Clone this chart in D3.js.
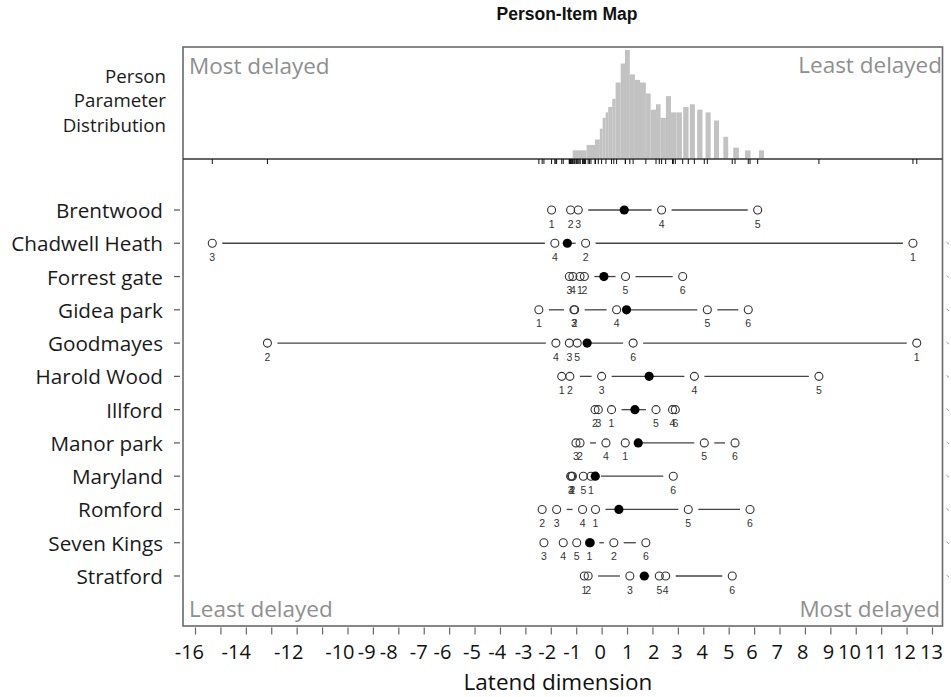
<!DOCTYPE html>
<html><head><meta charset="utf-8">
<script src="https://cdn.jsdelivr.net/npm/d3@7"></script>
<style>body{margin:0;background:#fff}svg{display:block}</style>
</head><body>
<svg id="chart" width="951" height="697"></svg>
<script>
const stations = ["Brentwood","Chadwell Heath","Forrest gate","Gidea park","Goodmayes","Harold Wood","Illford","Manor park","Maryland","Romford","Seven Kings","Stratford"];
// item threshold locations, index i => item number i+1
const itemLocations = [
  [-1.97, -1.22, -0.92, 2.36, 6.14],
  [12.25, -0.63, -15.32, -1.84],
  [-0.85, -0.68, -1.27, -1.13, 0.94, 3.19],
  [-2.47, -1.06, -1.09, 0.59, 4.16, 5.77],
  [12.40, -13.15, -1.27, -1.80, -0.96, 1.24],
  [-1.57, -1.25, 0.00, 3.65, 8.55],
  [0.39, -0.26, -0.13, 2.79, 2.14, 2.90],
  [0.93, -0.85, -1.01, 0.17, 4.04, 5.25],
  [-0.42, -1.15, -1.22, -1.18, -0.72, 2.82],
  [-0.24, -2.34, -1.77, -0.75, 3.41, 5.84],
  [-0.48, 0.48, -2.27, -1.51, -0.98, 1.74],
  [-0.68, -0.53, 1.11, 2.52, 2.27, 5.14]
];
const stationMeans = [0.89, -1.35, 0.09, 0.98, -0.57, 1.87, 1.31, 1.44, -0.25, 0.68, -0.45, 1.68];

// person parameter histogram
const histX0 = [-1.14,-0.59,-0.26,-0.07,0.04,0.16,0.26,0.42,0.55,0.75,0.92,1.11,1.31,1.51,1.74,1.93,2.14,2.32,2.53,2.73,2.95,3.21,3.47,3.76,4.09,4.42,4.79,5.18,5.64,6.19];
const histX1 = [-0.59,-0.26,-0.07,0.04,0.16,0.26,0.42,0.55,0.75,0.92,1.11,1.31,1.51,1.74,1.93,2.14,2.32,2.53,2.73,2.95,3.16,3.42,3.67,3.97,4.29,4.62,4.98,5.40,5.86,6.39];
const histCounts = [3,5,7,11,15,17,19,22,28,35,40,31,29,28,24,18,20,15,23,17,17,19,20,18,17,14,8,4,3,3];

// axis
const tickValues = d3.range(-16, 14);
const tickLabels = ["-16","-14","-12","-10","-9","-8","-7","-6","-5","-4","-3","-2","-1","0","1","2","3","4","5","6","7","8","9","10","11","12","13"];
const tickLabelAt = [-16.24,-14.40,-12.33,-10.32,-9.26,-8.40,-7.22,-6.28,-5.12,-4.13,-3.09,-2.16,-1.18,-0.07,1.01,2.03,2.95,3.94,4.98,5.90,6.89,7.89,8.91,9.73,10.76,11.90,12.96];

const svg = d3.select("#chart");
const font = "'Open Sans', sans-serif";
const L = 183, R = 942.5, T = 47, SEP = 159, B = 626;

const x = d3.scaleLinear().domain([-16, 13]).range([195, 932]);
const y = d3.scalePoint().domain(stations).range([210, 576]);
const hy = d3.scaleLinear().domain([0, 40]).range([SEP - 0.5, 50]);

// title
svg.append("text").attr("x", 567).attr("y", 20).attr("text-anchor", "middle")
  .attr("font-family", "'Liberation Sans', Arial, sans-serif").attr("font-weight", "bold")
  .attr("font-size", 17.5).attr("fill", "#111").text("Person-Item Map");

// histogram
svg.append("g").selectAll("rect").data(histCounts).join("rect")
  .attr("x", (d, i) => x(histX0[i]))
  .attr("width", (d, i) => x(histX1[i]) - x(histX0[i]))
  .attr("y", d => hy(d))
  .attr("height", d => hy(0) - hy(d))
  .attr("fill", "#c2c2c2");

// frame
svg.append("rect").attr("x", L).attr("y", T).attr("width", R - L).attr("height", B - T)
  .attr("fill", "none").attr("stroke", "#6a6a6a").attr("stroke-width", 1.6);
svg.append("line").attr("x1", L).attr("x2", R).attr("y1", SEP).attr("y2", SEP)
  .attr("stroke", "#333").attr("stroke-width", 1.6);

// rug of item locations
const allItems = itemLocations.flat();
svg.append("g").selectAll("line").data(allItems).join("line")
  .attr("x1", d => x(d)).attr("x2", d => x(d))
  .attr("y1", SEP).attr("y2", SEP + 5)
  .attr("stroke", "#111").attr("stroke-width", 1);

// left labels
const ppd = ["Person", "Parameter", "Distribution"];
svg.append("g").selectAll("text").data(ppd).join("text")
  .attr("x", 166).attr("y", (d, i) => 75 + i * 24.5)
  .attr("text-anchor", "end").attr("dominant-baseline", "central")
  .attr("font-family", font).attr("font-size", 18.7).attr("fill", "#1a1a1a").text(d => d);

svg.append("g").selectAll("text").data(stations).join("text")
  .attr("x", 163).attr("y", d => y(d))
  .attr("text-anchor", "end").attr("dominant-baseline", "central")
  .attr("font-family", font).attr("font-size", 20.7).attr("fill", "#1a1a1a").text(d => d);

// left ticks
svg.append("g").selectAll("line").data(stations).join("line")
  .attr("x1", 174).attr("x2", 180).attr("y1", d => y(d)).attr("y2", d => y(d))
  .attr("stroke", "#555").attr("stroke-width", 1.2);

// right edge remnants
svg.append("g").selectAll("line").data(stations.slice(1)).join("line")
  .attr("x1", 946.5).attr("x2", 949).attr("y1", d => y(d) - 1).attr("y2", d => y(d) + 1)
  .attr("stroke", "#999").attr("stroke-width", 1);

// rows
const gap = 10;
const rows = svg.append("g");
stations.forEach((s, si) => {
  const yy = y(s);
  const locs = itemLocations[si];
  const sorted = locs.slice().sort((a, b) => a - b);
  const g = rows.append("g");
  for (let k = 0; k < sorted.length - 1; k++) {
    const a = x(sorted[k]), b = x(sorted[k + 1]);
    if (b - a > 2 * gap) {
      g.append("line").attr("x1", a + gap).attr("x2", b - gap)
        .attr("y1", yy).attr("y2", yy).attr("stroke", "#444").attr("stroke-width", 1.3);
    }
  }
  g.selectAll("circle.item").data(locs).join("circle").attr("class", "item")
    .attr("cx", d => x(d)).attr("cy", yy).attr("r", 4)
    .attr("fill", "none").attr("stroke", "#333").attr("stroke-width", 1.1);
  g.selectAll("text.lab").data(locs).join("text").attr("class", "lab")
    .attr("x", d => x(d)).attr("y", yy + 13.5)
    .attr("text-anchor", "middle").attr("dominant-baseline", "central")
    .attr("font-family", "'Liberation Sans', Arial, sans-serif").attr("font-size", 10.5)
    .attr("fill", "#333").text((d, i) => i + 1);
  g.append("circle").attr("cx", x(stationMeans[si])).attr("cy", yy).attr("r", 4.6).attr("fill", "#000");
});

// corner annotations
const ann = [
  {t: "Most delayed", x: 189, y: 74, a: "start"},
  {t: "Least delayed", x: 942, y: 73, a: "end"},
  {t: "Least delayed", x: 189, y: 617, a: "start"},
  {t: "Most delayed", x: 940, y: 617, a: "end"}
];
svg.append("g").selectAll("text").data(ann).join("text")
  .attr("x", d => d.x).attr("y", d => d.y).attr("text-anchor", d => d.a)
  .attr("font-family", font).attr("font-size", 22.5).attr("fill", "#8f8f8f").text(d => d.t);

// bottom axis
const axisG = svg.append("g").attr("transform", `translate(0,${B + 1.5})`)
  .call(d3.axisBottom(x).tickValues(tickValues).tickSize(7).tickSizeOuter(0).tickFormat(""));
axisG.select(".domain").remove();
axisG.selectAll(".tick line").attr("stroke", "#666").attr("stroke-width", 1.2);

const labG = svg.append("g").attr("transform", `translate(0,${B})`)
  .call(d3.axisBottom(x).tickValues(tickLabelAt).tickSize(0).tickPadding(0)
    .tickFormat((d, i) => tickLabels[i]));
labG.select(".domain").remove();
labG.selectAll(".tick text").attr("y", 26).attr("dy", "0.35em")
  .attr("font-family", font).attr("font-size", 20).attr("fill", "#111");

svg.append("text").attr("x", 558).attr("y", 690).attr("text-anchor", "middle")
  .attr("font-family", font).attr("font-size", 22.5)
  .attr("fill", "#111").text("Latend dimension");
</script>
</body></html>
